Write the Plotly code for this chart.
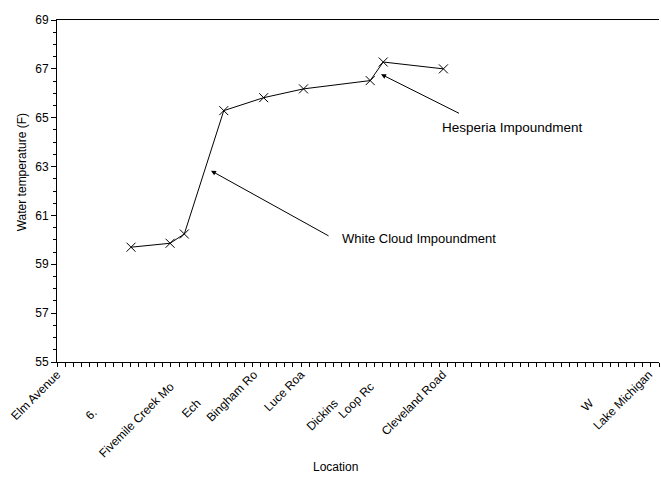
import plotly.graph_objects as go

# Data (x in river-distance units, one minor tick per unit)
site_x = [9.1, 13.9, 15.65, 20.5, 25.4, 30.3, 38.5, 40.1, 47.5]
water_temp = [59.70, 59.86, 60.24, 65.29, 65.82, 66.18, 66.52, 67.28, 67.00]

NB = "\u00a0"
tick_vals = [0.0, 9.1, 15.4, 20.7, 24.2, 30.0, 37.6, 40.0, 47.4, 69.0, 72.75]
tick_names = ["Elm Avenue", "6.", "Fivemile Creek Mo", "Ech", "Bingham Ro", "Luce Roa",
              "Dickins", "Loop Rc", "Cleveland Road", "W", "Lake Michigan"]
tick_pad = [0, 16, 5, 12, 0, 0, 12, 5, 0, 12, 0]
tick_text = [n + NB * p for n, p in zip(tick_names, tick_pad)]

FONT = "Liberation Sans, Arial, sans-serif"

fig = go.Figure()
fig.add_trace(go.Scatter(
    x=site_x, y=water_temp, mode="lines+markers",
    line=dict(color="black", width=1),
    marker=dict(symbol="x-thin", size=9, line=dict(color="black", width=1), color="black"),
    showlegend=False, hoverinfo="skip"))

# Arrows (no text) and labels
fig.add_annotation(x=18.93, y=62.83, ax=33.56, ay=60.13, axref="x", ayref="y",
                   text="", showarrow=True, arrowhead=2, arrowsize=1, arrowwidth=1,
                   arrowcolor="black")
fig.add_annotation(x=34.75, y=60.04, text="White Cloud Impoundment", showarrow=False,
                   xanchor="left", yanchor="middle", font=dict(size=13, color="black", family=FONT))
fig.add_annotation(x=39.83, y=66.78, ax=49.6, ay=65.15, axref="x", ayref="y",
                   text="", showarrow=True, arrowhead=2, arrowsize=1, arrowwidth=1,
                   arrowcolor="black")
fig.add_annotation(x=47.1, y=64.62, text="Hesperia Impoundment", showarrow=False,
                   xanchor="left", yanchor="middle", font=dict(size=13.5, color="black", family=FONT))

# Axis titles
fig.add_annotation(xref="paper", yref="paper", x=0.462, y=-0.307, text="Location",
                   showarrow=False, xanchor="center", yanchor="middle",
                   font=dict(size=12, color="black", family=FONT))
fig.add_annotation(xref="paper", yref="paper", x=-0.058, y=0.555, text="Water temperature (F)",
                   textangle=-90, showarrow=False, xanchor="center", yanchor="middle",
                   font=dict(size=12, color="black", family=FONT))

fig.update_xaxes(
    range=[0, 74], showline=True, linecolor="black", linewidth=1, mirror=True,
    showgrid=False, zeroline=False,
    tickmode="array", tickvals=tick_vals, ticktext=tick_text, tickangle=-45,
    ticks="", tickfont=dict(size=12, color="black", family=FONT),
    minor=dict(dtick=1, tick0=0, ticks="outside", ticklen=4, tickcolor="black", showgrid=False),
    automargin=False)
fig.update_yaxes(
    range=[55, 69], showline=True, linecolor="black", linewidth=1,
    showgrid=False, zeroline=False,
    tickmode="linear", tick0=55, dtick=2, ticks="outside", ticklen=5, tickcolor="black",
    tickfont=dict(size=12, color="black", family=FONT),
    minor=dict(dtick=0.5, ticks="outside", ticklen=3, tickcolor="black", showgrid=False),
    automargin=False)

fig.update_layout(
    width=661, height=486,
    margin=dict(l=57, r=2, t=20, b=124),
    paper_bgcolor="white", plot_bgcolor="white",
    font=dict(family=FONT, size=12, color="black"))

fig.write_html("out.html", config={"displayModeBar": False},
               post_script="document.body.style.margin='0';")
